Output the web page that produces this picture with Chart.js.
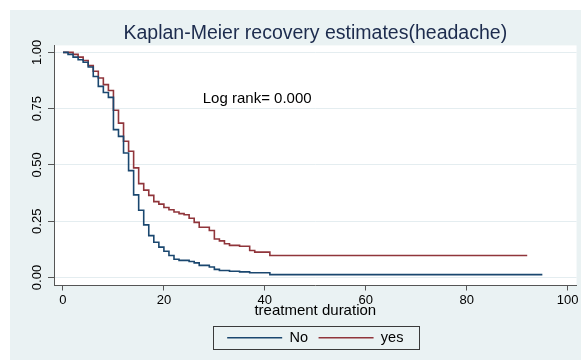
<!DOCTYPE html>
<html>
<head>
<meta charset="utf-8">
<script src="https://cdn.jsdelivr.net/npm/chart.js@4/dist/chart.umd.min.js"></script>
<style>
  html, body { margin: 0; padding: 0; background: #ffffff; }
  #wrap { width: 581px; height: 360px; }
</style>
</head>
<body>
<div id="wrap"><canvas id="c" width="581" height="360"></canvas></div>
<script>
// ---- data ----
const chartTitle = 'Kaplan-Meier recovery estimates(headache)';
const xTitle = 'treatment duration';
const annotation = 'Log rank= 0.000';
const seriesNames = ['No', 'yes'];

const noTimes = [0, 1, 2, 3, 4, 5, 6, 7, 8, 9, 10, 11, 12, 13, 14, 15, 16, 17, 18, 19, 20, 21, 22, 23, 25, 26, 27, 29, 30, 31, 33, 35, 37, 41, 95];
const noSurv  = [1.0, 0.991, 0.979, 0.967, 0.956, 0.935, 0.893, 0.849, 0.822, 0.80, 0.657, 0.627, 0.553, 0.475, 0.367, 0.299, 0.234, 0.186, 0.157, 0.135, 0.117, 0.098, 0.081, 0.076, 0.071, 0.065, 0.054, 0.047, 0.036, 0.031, 0.028, 0.025, 0.021, 0.013, 0.013];

const yesTimes = [0, 2, 3, 4, 5, 6, 7, 8, 9, 10, 11, 12, 13, 14, 15, 16, 17, 18, 19, 20, 21, 22, 23, 24, 25, 26, 27, 29, 30, 31, 32, 33, 35, 37, 38, 41, 92];
const yesSurv  = [1.0, 0.991, 0.979, 0.964, 0.941, 0.916, 0.886, 0.857, 0.831, 0.743, 0.686, 0.605, 0.561, 0.487, 0.417, 0.388, 0.365, 0.337, 0.326, 0.311, 0.301, 0.291, 0.284, 0.279, 0.263, 0.245, 0.223, 0.209, 0.171, 0.163, 0.150, 0.143, 0.139, 0.120, 0.113, 0.098, 0.098];

const xTicks = [0, 20, 40, 60, 80, 100];
const yTicks = [0, 0.25, 0.5, 0.75, 1.0];
const annotationAt = { x: 27.7, y: 0.792 };

// ---- styles ----
const FONT = '"Liberation Sans", Arial, Helvetica, sans-serif';
const BG = '#eaf2f3';
const AXIS = '#555555';

const bgPlugin = {
  id: 'bgPlugin',
  beforeDraw(chart) {
    const ctx = chart.ctx, a = chart.chartArea;
    ctx.save();
    ctx.fillStyle = '#ffffff';
    ctx.fillRect(0, 0, chart.width, chart.height);
    ctx.fillStyle = BG;
    ctx.fillRect(10, 10, chart.width - 10, chart.height - 10);
    ctx.fillStyle = '#ffffff';
    ctx.fillRect(a.left, a.top, a.right - a.left, a.bottom - a.top);
    ctx.restore();
  },
  afterDraw(chart) {
    const ctx = chart.ctx;
    const xs = chart.scales.x, ys = chart.scales.y;
    ctx.save();
    ctx.font = '15px ' + FONT;
    ctx.fillStyle = '#000000';
    ctx.textAlign = 'left';
    ctx.textBaseline = 'middle';
    ctx.fillText(annotation, xs.getPixelForValue(annotationAt.x), ys.getPixelForValue(annotationAt.y));
    // legend frame
    const hb = chart.legend.legendHitBoxes;
    if (hb && hb.length) {
      let l = Infinity, r = -Infinity, t = Infinity, b = -Infinity;
      hb.forEach(h => { l = Math.min(l, h.left); r = Math.max(r, h.left + h.width); t = Math.min(t, h.top); b = Math.max(b, h.top + h.height); });
      const cy = (t + b) / 2;
      ctx.strokeStyle = '#3a3a3a';
      ctx.lineWidth = 1;
      ctx.strokeRect(Math.round(l - 14) + 0.5, Math.round(cy - 12) + 0.5, Math.round(r - l + 30), 23);
    }
    ctx.restore();
  }
};

new Chart(document.getElementById('c'), {
  type: 'line',
  data: {
    datasets: [
      {
        label: seriesNames[0],
        data: noTimes.map((t, i) => ({ x: t, y: noSurv[i] })),
        stepped: 'before',
        borderColor: '#1a476f',
        backgroundColor: '#1a476f',
        borderWidth: 1.6,
        pointRadius: 0,
        fill: false
      },
      {
        label: seriesNames[1],
        data: yesTimes.map((t, i) => ({ x: t, y: yesSurv[i] })),
        stepped: 'before',
        borderColor: '#90353b',
        backgroundColor: '#90353b',
        borderWidth: 1.6,
        pointRadius: 0,
        fill: false
      }
    ]
  },
  options: {
    responsive: false,
    animation: false,
    devicePixelRatio: 1,
    layout: { padding: { left: 10, right: 4, top: 10, bottom: 5 } },
    plugins: {
      tooltip: { enabled: false },
      title: {
        display: true,
        fullSize: false,
        text: chartTitle,
        color: '#1c2b4d',
        font: { family: FONT, size: 19.5, weight: 'normal', lineHeight: 1.2 },
        padding: { top: 12, bottom: 0 }
      },
      legend: {
        display: true,
        fullSize: false,
        position: 'bottom',
        labels: {
          usePointStyle: true,
          pointStyle: 'line',
          pointStyleWidth: 55,
          color: '#000000',
          font: { family: FONT, size: 14.5 },
          padding: 10.6
        }
      }
    },
    scales: {
      x: {
        type: 'linear',
        min: -1.78,
        max: 101.78,
        afterBuildTicks(scale) { scale.ticks = xTicks.map(v => ({ value: v })); },
        afterFit(scale) { scale.height = 34.4; },
        grid: { drawOnChartArea: false, drawTicks: true, tickLength: 5, color: AXIS, tickColor: AXIS },
        border: { display: true, color: AXIS, width: 1 },
        ticks: {
          color: '#000000',
          font: { family: FONT, size: 13 },
          padding: 2.5,
          maxRotation: 0,
          callback: v => String(v)
        },
        title: {
          display: true,
          text: xTitle,
          color: '#000000',
          font: { family: FONT, size: 15, lineHeight: 1.2 },
          padding: { top: 0, bottom: 0.5 }
        }
      },
      y: {
        type: 'linear',
        min: -0.0354,
        max: 1.031,
        afterBuildTicks(scale) { scale.ticks = yTicks.map(v => ({ value: v })); },
        afterFit(scale) { scale.width = 44; },
        grid: { drawOnChartArea: true, drawTicks: true, tickLength: 6, color: '#e4edf0', tickColor: AXIS },
        border: { display: true, color: AXIS, width: 1 },
        ticks: {
          color: '#000000',
          font: { family: FONT, size: 13 },
          padding: -2,
          minRotation: 90,
          maxRotation: 90,
          crossAlign: 'center',
          callback: v => Number(v).toFixed(2)
        },
        title: { display: false }
      }
    }
  },
  plugins: [bgPlugin]
});
</script>
</body>
</html>
